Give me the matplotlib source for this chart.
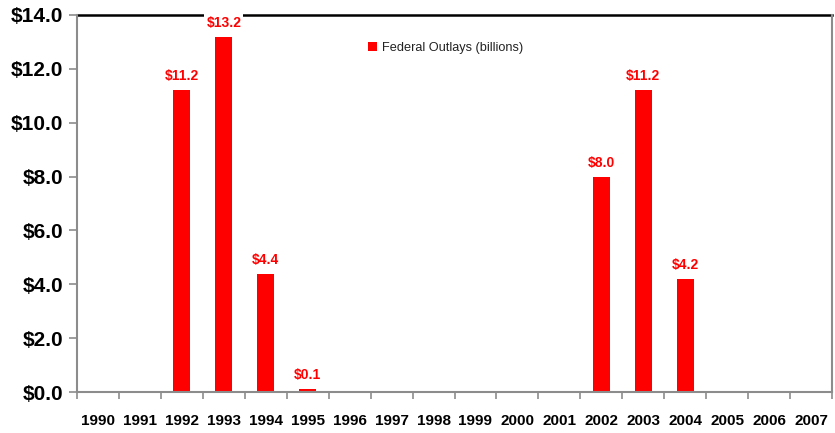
import matplotlib.pyplot as plt
import numpy as np

years = [str(y) for y in range(1990, 2008)]
outlays = [0, 0, 11.2, 13.2, 4.4, 0.1, 0, 0, 0, 0, 0, 0, 8.0, 11.2, 4.2, 0, 0, 0]
yticks = [0, 2, 4, 6, 8, 10, 12, 14]

RED = "#ff0000"
GRAY = "#8c8c8c"
plt.rcParams['font.family'] = ['Liberation Sans', 'DejaVu Sans']


def main():
    fig = plt.figure(figsize=(8.35, 4.33), dpi=100)
    ax = fig.add_axes([77 / 835, 1 - 392 / 433, 755 / 835, 377 / 433])
    x = np.arange(len(years))
    ax.bar(x, outlays, width=0.4, color=RED, label="Federal Outlays (billions)", zorder=2)

    # data labels only where there is money
    for xi, v in zip(x, outlays):
        if v > 0:
            ax.annotate(f"${v:.1f}", (xi, v), xytext=(0, 5), textcoords="offset points",
                        ha="center", va="bottom", color=RED, fontsize=10, fontweight="bold",
                        bbox=dict(facecolor="white", edgecolor="none", pad=1.5),
                        annotation_clip=False, zorder=5)

    ax.set_xlim(-0.5, len(years) - 0.5)
    ax.set_ylim(0, 14)
    ax.set_yticks(yticks)
    ax.set_yticklabels([f"${t:.1f}" for t in yticks], fontsize=15, fontweight="bold")
    ax.set_xticks(x)
    ax.set_xticklabels(years, fontsize=11, fontweight="bold")
    ax.set_xticks(np.arange(-0.5, len(years)), minor=True)
    ax.tick_params(axis="x", which="major", length=0, pad=16)
    ax.tick_params(axis="x", which="minor", length=5, color=GRAY, width=1.2)
    ax.tick_params(axis="y", length=6, color=GRAY, width=1.2, pad=4)

    for side in ["left", "bottom", "right"]:
        ax.spines[side].set_color(GRAY)
        ax.spines[side].set_linewidth(1.5)
    ax.spines["top"].set_color("black")
    ax.spines["top"].set_linewidth(1.8)
    ax.spines["top"].set_zorder(1)

    leg = ax.legend(loc="upper left", bbox_to_anchor=(0.37, 0.96), frameon=False,
                    fontsize=9.2, handlelength=0.7, handleheight=0.7, handletextpad=0.4)
    for t in leg.get_texts():
        t.set_color("#222222")

    fig.savefig("out.png", dpi=100)


if __name__ == "__main__":
    main()
